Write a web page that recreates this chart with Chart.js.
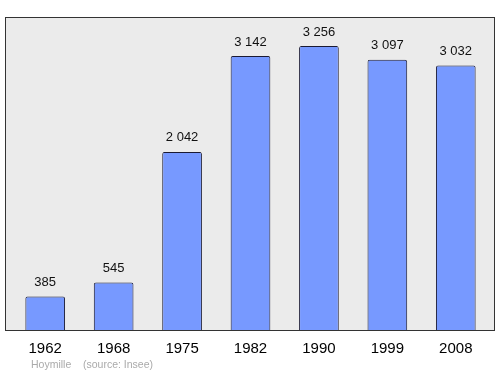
<!DOCTYPE html>
<html lang="en">
<head>
  <meta charset="UTF-8" />
  <title>Hoymille population</title>
  <script src="https://cdn.jsdelivr.net/npm/chart.js"></script>
  <style>
    html, body { margin: 0; padding: 0; background: #fff; }
    #wrap { width: 500px; height: 374px; position: relative; }
  </style>
</head>
<body>
  <div id="wrap"><canvas id="popChart"></canvas></div>

  <script>
    const years = ['1962', '1968', '1975', '1982', '1990', '1999', '2008'];
    const population = [385, 545, 2042, 3142, 3256, 3097, 3032];
    const yMax = 3600;

    const fmt = v => String(v).replace(/\B(?=(\d{3})+(?!\d))/g, ' ');

    // grey framed background + footer note
    const frame = {
      id: 'frame',
      beforeDraw(chart) {
        const c = chart.ctx;
        c.save();
        c.fillStyle = '#ebebeb';
        c.fillRect(5, 17, 489, 313);
        c.strokeStyle = '#333';
        c.lineWidth = 1;
        c.strokeRect(5.5, 17.5, 489, 313);
        c.restore();
      },
      afterDraw(chart) {
        const c = chart.ctx;
        c.save();
        c.fillStyle = '#aaa';
        c.font = '10.5px "Liberation Sans", Arial, sans-serif';
        c.textBaseline = 'middle';
        c.fillText('Hoymille', 31, 365);
        c.fillText('(source: Insee)', 83, 365);
        c.restore();
      }
    };

    const valueLabels = {
      id: 'valueLabels',
      afterDatasetsDraw(chart) {
        const c = chart.ctx;
        const meta = chart.getDatasetMeta(0);
        c.save();
        c.fillStyle = '#111';
        c.font = '13px "Liberation Sans", Arial, sans-serif';
        c.textAlign = 'center';
        c.textBaseline = 'middle';
        meta.data.forEach((bar, i) => {
          c.fillText(fmt(population[i]), bar.x, bar.y - 14);
        });
        c.restore();
      }
    };

    new Chart(document.getElementById('popChart'), {
      type: 'bar',
      data: {
        labels: years,
        datasets: [{
          data: population,
          backgroundColor: '#7799ff',
          borderColor: '#1a1a33',
          borderWidth: 1,
          borderRadius: 2,
          categoryPercentage: 1,
          barPercentage: 0.58
        }]
      },
      options: {
        responsive: true,
        maintainAspectRatio: false,
        animation: false,
        layout: { padding: { top: 16, left: 11, right: 10, bottom: 0 } },
        plugins: { legend: { display: false }, tooltip: { enabled: false } },
        scales: {
          x: {
            grid: { display: false, drawTicks: false },
            border: { display: false },
            ticks: {
              color: '#000',
              padding: 10,
              font: { family: '"Liberation Sans", Arial, sans-serif', size: 15 }
            },
            afterFit(scale) { scale.height = 44; }
          },
          y: {
            display: false,
            min: 0,
            max: yMax
          }
        }
      },
      plugins: [frame, valueLabels]
    });
  </script>
</body>
</html>
